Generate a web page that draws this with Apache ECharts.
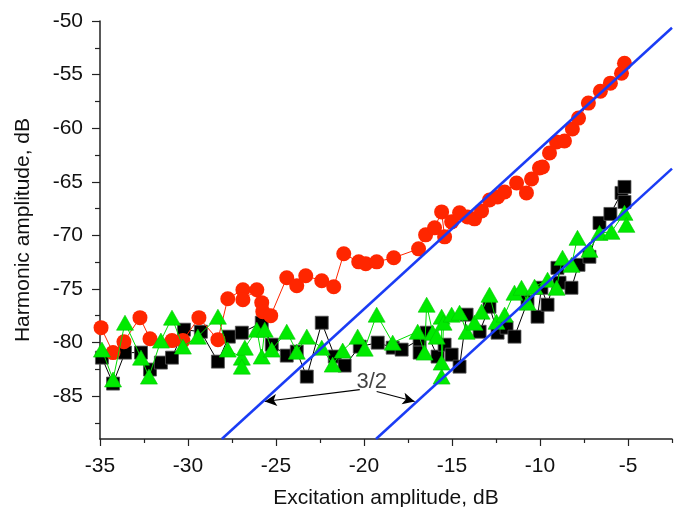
<!DOCTYPE html>
<html>
<head>
<meta charset="utf-8">
<script src="https://cdn.jsdelivr.net/npm/echarts@6/dist/echarts.min.js"></script>
<style>html,body{margin:0;padding:0;background:#fff}#c{width:680px;height:507px}</style>
</head>
<body>
<div id="c"></div>
<script>
// Red circles
var redX = [-34.94,-34.26,-33.64,-32.73,-32.16,-30.91,-30.29,-29.38,-28.30,-27.74,-26.88,-26.88,-26.09,-25.81,-25.75,-25.30,-24.39,-23.82,-23.31,-22.40,-21.72,-21.15,-20.30,-19.90,-19.28,-18.31,-16.90,-16.50,-15.99,-15.59,-15.42,-15.02,-14.57,-14.11,-13.72,-13.32,-12.87,-12.41,-12.01,-11.33,-10.77,-10.48,-10.03,-9.86,-9.46,-9.06,-8.61,-8.16,-7.81,-7.25,-6.57,-6.00,-5.37,-5.20];
var redY = [-78.61,-80.94,-79.92,-77.68,-79.64,-79.82,-79.82,-77.68,-79.73,-75.91,-75.07,-76.01,-75.07,-76.28,-77.12,-77.49,-73.96,-74.70,-73.77,-74.24,-74.80,-71.72,-72.47,-72.65,-72.47,-72.09,-71.26,-69.95,-69.30,-67.81,-70.14,-68.74,-67.90,-68.28,-68.46,-67.72,-66.70,-66.42,-65.95,-65.11,-66.04,-64.74,-63.71,-63.62,-62.32,-61.29,-61.20,-60.08,-59.06,-57.66,-56.55,-55.80,-54.87,-53.94];
// Black squares
var blackX = [-34.89,-34.26,-33.58,-32.67,-32.16,-31.54,-30.91,-30.23,-29.27,-28.30,-27.68,-26.94,-25.81,-25.24,-24.39,-23.82,-23.25,-22.40,-21.66,-21.10,-20.24,-19.22,-18.37,-17.86,-16.84,-16.84,-16.44,-15.82,-15.42,-15.02,-14.57,-14.17,-13.43,-12.87,-12.41,-11.90,-11.45,-10.71,-10.14,-9.92,-9.57,-9.01,-8.89,-8.21,-7.81,-7.19,-6.62,-6.00,-5.37,-5.20,-5.20];
var blackY = [-81.41,-83.83,-80.94,-80.94,-82.52,-81.87,-81.41,-78.80,-78.99,-81.78,-79.45,-79.08,-78.15,-80.20,-81.22,-80.85,-83.18,-78.15,-81.31,-82.15,-80.38,-80.01,-80.48,-80.66,-79.73,-80.94,-79.08,-81.31,-80.20,-81.13,-82.25,-77.40,-78.99,-76.66,-79.08,-78.61,-79.45,-76.19,-77.59,-74.89,-76.47,-73.03,-74.42,-74.89,-72.75,-72.00,-68.84,-68.00,-66.04,-65.48,-66.88];
// Green triangles
var greenX = [-34.89,-34.26,-33.58,-32.67,-32.22,-31.54,-30.91,-30.29,-29.44,-28.30,-27.74,-26.94,-26.94,-26.77,-26.09,-25.81,-25.64,-25.24,-24.39,-23.82,-23.25,-22.40,-21.78,-21.21,-20.36,-19.96,-19.28,-18.37,-16.95,-16.56,-16.44,-16.10,-15.87,-15.59,-15.59,-15.59,-15.48,-15.02,-14.57,-14.17,-13.72,-13.32,-12.87,-12.47,-12.01,-11.45,-11.05,-10.71,-10.31,-9.57,-9.06,-8.72,-8.21,-7.87,-7.19,-6.62,-5.94,-5.20,-5.09];
var greenY = [-80.66,-83.45,-78.15,-81.41,-83.18,-79.82,-77.68,-80.38,-79.45,-77.59,-80.66,-81.41,-82.25,-80.48,-78.80,-81.31,-78.80,-80.66,-78.99,-80.85,-79.45,-80.48,-82.06,-80.75,-79.45,-80.57,-77.40,-80.01,-78.99,-80.94,-76.47,-79.08,-79.45,-77.59,-81.87,-83.18,-78.15,-77.40,-77.22,-78.99,-78.15,-77.12,-75.54,-78.06,-77.40,-75.35,-74.89,-76.28,-74.79,-74.14,-74.89,-72.09,-72.75,-70.23,-71.35,-69.77,-69.67,-67.90,-69.02];
// Slope 3/2 guide lines (endpoints)
var fit1X = [-28.08, -2.5], fit1Y = [-89, -50.63];
var fit2X = [-19.32, -2.5], fit2Y = [-89, -63.77];
// Annotation
var noteText = '3/2';
var notePos = [-19.56, -83.7];
var arrow1 = [[-20.24, -84.39], [-25.64, -85.50]];
var arrow2 = [[-19.28, -84.57], [-17.12, -85.50]];
// Axes
var xMajor = [-35, -30, -25, -20, -15, -10, -5];
var xMinor = [-32.5, -27.5, -22.5, -17.5, -12.5, -7.5, -2.5];
var yMajor = [-85, -80, -75, -70, -65, -60, -55, -50];
var yMinor = [-87.5, -82.5, -77.5, -72.5, -67.5, -62.5, -57.5, -52.5];
var xMin = -35, xMax = -2.5, yMin = -89, yMax = -50;

function zip(a, b) { return a.map(function (v, i) { return [v, b[i]]; }); }

var FONT = 'Liberation Sans, Arial, sans-serif';
var axisColor = '#222';

var chart = echarts.init(document.getElementById('c'), null, { renderer: 'canvas' });
chart.setOption({
  animation: false,
  backgroundColor: '#fff',
  grid: { left: 100, right: 8, top: 21, bottom: 68, containLabel: false, outerBoundsMode: 'none' },
  xAxis: [{
    type: 'value', min: xMin, max: xMax, position: 'bottom',
    name: 'Excitation amplitude, dB', nameLocation: 'middle', nameGap: 49,
    nameTextStyle: { fontFamily: FONT, fontSize: 21, color: '#111' },
    axisLine: { show: true, onZero: false, lineStyle: { color: axisColor, width: 1.5 } },
    axisTick: { show: true, length: 7, customValues: xMajor, lineStyle: { color: axisColor, width: 1.2 } },
    axisLabel: { show: true, customValues: xMajor, margin: 17, fontFamily: FONT, fontSize: 21, color: '#111' },
    splitLine: { show: false }
  }, {
    type: 'value', min: xMin, max: xMax, position: 'bottom',
    axisLine: { show: false, onZero: false },
    axisTick: { show: true, length: 4, customValues: xMinor, lineStyle: { color: axisColor, width: 1.2 } },
    axisLabel: { show: false },
    splitLine: { show: false }
  }],
  yAxis: [{
    type: 'value', min: yMin, max: yMax, position: 'left',
    name: 'Harmonic amplitude, dB', nameLocation: 'middle', nameGap: 66, nameRotate: 90,
    nameTextStyle: { fontFamily: FONT, fontSize: 21, color: '#111' },
    axisLine: { show: true, onZero: false, lineStyle: { color: axisColor, width: 1.5 } },
    axisTick: { show: true, length: 8, customValues: yMajor, lineStyle: { color: axisColor, width: 1.2 } },
    axisLabel: { show: true, customValues: yMajor, margin: 17, fontFamily: FONT, fontSize: 21, color: '#111' },
    splitLine: { show: false }
  }, {
    type: 'value', min: yMin, max: yMax, position: 'left',
    axisLine: { show: false, onZero: false },
    axisTick: { show: true, length: 5, customValues: yMinor, lineStyle: { color: axisColor, width: 1.2 } },
    axisLabel: { show: false },
    splitLine: { show: false }
  }],
  series: [{
    type: 'line', name: 'black', data: zip(blackX, blackY), clip: false, z: 2,
    symbol: 'rect', symbolSize: 13,
    itemStyle: { color: '#000', borderColor: '#555', borderWidth: 0.8 },
    lineStyle: { color: '#000', width: 1 }
  }, {
    type: 'line', name: 'red', data: zip(redX, redY), clip: false, z: 3,
    symbol: 'circle', symbolSize: 15,
    itemStyle: { color: '#ff2600', borderColor: '#ff2600', borderWidth: 0 },
    lineStyle: { color: '#ff2600', width: 1 }
  }, {
    type: 'line', name: 'green', data: zip(greenX, greenY), clip: false, z: 4,
    symbol: 'triangle', symbolSize: [17, 15],
    itemStyle: { color: '#00ea00', borderColor: '#00c800', borderWidth: 0.6 },
    lineStyle: { color: '#00dd00', width: 1 }
  }, {
    type: 'line', name: 'fit1', data: zip(fit1X, fit1Y), showSymbol: false, symbol: 'none', z: 5,
    lineStyle: { color: '#1a3cf5', width: 2.5 }
  }, {
    type: 'line', name: 'fit2', data: zip(fit2X, fit2Y), showSymbol: false, symbol: 'none', z: 5,
    lineStyle: { color: '#1a3cf5', width: 2.5 }
  }, {
    type: 'scatter', name: 'note', data: [notePos], symbolSize: 0, z: 6, silent: true,
    label: { show: true, position: 'inside', formatter: noteText, fontFamily: FONT, fontSize: 22, color: '#111' },
    markLine: {
      silent: true, symbol: ['none', 'arrow'], symbolSize: [9, 12],
      label: { show: false },
      lineStyle: { color: '#000', width: 1.2, type: 'solid' },
      data: [
        [{ coord: arrow1[0] }, { coord: arrow1[1] }],
        [{ coord: arrow2[0] }, { coord: arrow2[1] }]
      ]
    }
  }]
});
</script>
</body>
</html>
